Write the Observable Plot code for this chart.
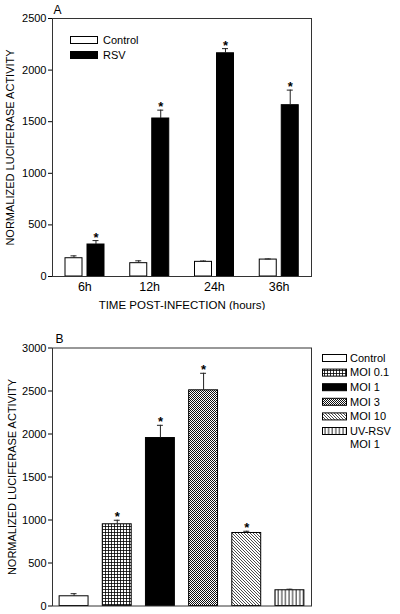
<!DOCTYPE html>
<html><head><meta charset="utf-8">
<script src="https://cdn.jsdelivr.net/npm/d3@7"></script>
<script src="https://cdn.jsdelivr.net/npm/@observablehq/plot@0.6"></script>
<style>
html,body{margin:0;padding:0;background:#fff;}
#chart svg{display:block;}
</style></head><body><div id="chart"></div>
<script>
// ---- Panel A data ----
const timepoints = ["6h", "12h", "24h", "36h"];
const controlA = [177, 129, 142, 164];
const controlErrA = [23, 23, 8, 6];
const rsvA = [310, 1531, 2163, 1660];
const rsvErrA = [38, 81, 45, 146];
const rsvSigA = [true, true, true, true];
const yTicksA = [0, 500, 1000, 1500, 2000, 2500];
const legendLabelsA = ["Control", "RSV"];

// ---- Panel B data ----
const groupsB = ["Control", "MOI 0.1", "MOI 1", "MOI 3", "MOI 10", "UV-RSV MOI 1"];
const valuesB = [113, 950, 1953, 2508, 849, 183];
const errB = [30, 47, 148, 198, 20, 12];
const sigB = [false, true, true, true, true, false];
const yTicksB = [0, 500, 1000, 1500, 2000, 2500, 3000];
const legendLabelsB = ["Control", "MOI 0.1", "MOI 1", "MOI 3", "MOI 10", "UV-RSV\nMOI 1"];
const fillsB = ["white", "url(#pGrid)", "black", "url(#pCheck)", "url(#pDiag)", "url(#pVert)"];

const yLabel = "NORMALIZED LUCIFERASE ACTIVITY";
const xLabelA = "TIME POST-INFECTION (hours)";
const font = "'Liberation Sans', Arial, Helvetica, sans-serif";

const ctrl = timepoints.map((t, i) => ({t, v: controlA[i], e: controlErrA[i]}));
const rsv = timepoints.map((t, i) => ({t, v: rsvA[i], e: rsvErrA[i], sig: rsvSigA[i]}));

const plotA = Plot.plot({
  width: 400, height: 310,
  marginLeft: 52, marginRight: 89, marginTop: 18, marginBottom: 34,
  style: {fontFamily: font, color: "#000", background: "#fff"},
  x: {domain: timepoints, padding: 0, round: false},
  y: {domain: [0, 2500]},
  marks: [
    Plot.barY(ctrl, {x: "t", y: "v", fill: "white", stroke: "black", strokeWidth: 1, insetLeft: 13, insetRight: 34.75}),
    Plot.barY(rsv, {x: "t", y: "v", fill: "black", stroke: "black", strokeWidth: 1, insetLeft: 35, insetRight: 12.75}),
    Plot.ruleX(ctrl, {x: "t", y1: "v", y2: d => d.v + d.e, dx: -10.9, stroke: "#222"}),
    Plot.tickY(ctrl, {x: "t", y: d => d.v + d.e, insetLeft: 18.5, insetRight: 40.25, stroke: "#222"}),
    Plot.ruleX(rsv, {x: "t", y1: "v", y2: d => d.v + d.e, dx: 11.1, stroke: "#222"}),
    Plot.tickY(rsv, {x: "t", y: d => d.v + d.e, insetLeft: 40.5, insetRight: 18.25, stroke: "#222"}),
    Plot.text(rsv.filter(d => d.sig), {x: "t", y: d => d.v + d.e, text: () => "*", dx: 11.1, dy: 1, lineAnchor: "bottom", fontSize: 13, fontWeight: "bold"}),
    Plot.frame({stroke: "#333"}),
    Plot.axisY({ticks: yTicksA, tickFormat: d3.format("d"), tickSize: 4, tickPadding: 2, label: null, fontSize: 11}),
    Plot.axisX({tickSize: 0, tickPadding: 6, label: null, fontSize: 12.5}),
    Plot.text([yLabel], {text: d => d, frameAnchor: "left", textAnchor: "middle", rotate: -90, dx: -42, fontSize: 11}),
    Plot.text([xLabelA], {text: d => d, frameAnchor: "bottom", textAnchor: "middle", dy: 29, lineAnchor: "middle", fontSize: 11.5}),
    Plot.text(["A"], {text: d => d, frameAnchor: "top-left", textAnchor: "start", dx: 1, dy: -8, lineAnchor: "middle", fontSize: 12})
  ]
});

const dataB = groupsB.map((g, i) => ({g, v: valuesB[i], e: errB[i], sig: sigB[i]}));

const plotB = Plot.plot({
  width: 400, height: 304,
  marginLeft: 52, marginRight: 89, marginTop: 37.5, marginBottom: 8.5,
  style: {fontFamily: font, color: "#000", background: "#fff"},
  x: {domain: groupsB, paddingInner: 0.33, paddingOuter: 0.165, round: false, axis: null},
  y: {domain: [0, 3000]},
  color: {type: "ordinal", domain: groupsB, range: fillsB},
  marks: [
    Plot.barY(dataB, {x: "g", y: "v", fill: "g", stroke: "black", strokeWidth: 1}),
    Plot.ruleX(dataB, {x: "g", y1: "v", y2: d => d.v + d.e, stroke: "#222"}),
    Plot.tickY(dataB, {x: "g", y: d => d.v + d.e, insetLeft: 11.5, insetRight: 11.5, stroke: "#222"}),
    Plot.text(dataB.filter(d => d.sig), {x: "g", y: d => d.v + d.e, text: () => "*", dy: 1, lineAnchor: "bottom", fontSize: 13, fontWeight: "bold"}),
    Plot.frame({stroke: "#333"}),
    Plot.axisY({ticks: yTicksB, tickFormat: d3.format("d"), tickSize: 4, tickPadding: 2, label: null, fontSize: 11}),
    Plot.text([yLabel], {text: d => d, frameAnchor: "left", textAnchor: "middle", rotate: -90, dx: -40, fontSize: 11}),
    Plot.text(["B"], {text: d => d, frameAnchor: "top-left", textAnchor: "start", dx: 3, dy: -9, lineAnchor: "middle", fontSize: 12})
  ]
});

// patterns for panel B
const defs = d3.select(plotB).insert("defs", ":first-child");
function pattern(id, w, h, draw) {
  const p = defs.append("pattern").attr("id", id).attr("patternUnits", "userSpaceOnUse").attr("width", w).attr("height", h);
  p.append("rect").attr("width", w).attr("height", h).attr("fill", "white");
  draw(p);
}
pattern("pGrid", 3, 3, p => p.append("path").attr("d", "M0,0.5H3M0.5,0V3").attr("stroke", "black").attr("stroke-width", 0.8));
pattern("pCheck", 2, 2, p => { p.append("rect").attr("width", 1).attr("height", 1).attr("fill", "#111"); p.append("rect").attr("x", 1).attr("y", 1).attr("width", 1).attr("height", 1).attr("fill", "#111"); });
pattern("pDiag", 3, 3, p => p.append("path").attr("d", "M0,0L3,3M-1,2L1,4M2,-1L4,1").attr("stroke", "black").attr("stroke-width", 0.7));
pattern("pVert", 3.6, 4, p => p.append("path").attr("d", "M1,0V4").attr("stroke", "black").attr("stroke-width", 0.9));

// legend A (inside plot area)
const legA = d3.select(plotA).append("g").attr("font-family", font).attr("font-size", 11).attr("text-anchor", "start");
legendLabelsA.forEach((lab, i) => {
  legA.append("rect").attr("x", 70.5).attr("y", 36.5 + i * 15).attr("width", 27).attr("height", 7)
    .attr("fill", i === 0 ? "white" : "black").attr("stroke", "black");
  legA.append("text").attr("x", 103).attr("y", 40 + i * 15).attr("dy", "0.35em").text(lab);
});

// legend B (right margin)
const legB = d3.select(plotB).append("g").attr("font-family", font).attr("font-size", 11).attr("text-anchor", "start");
legendLabelsB.forEach((lab, i) => {
  const cy = 48 + i * 14.6;
  legB.append("rect").attr("x", 322.5).attr("y", cy - 3.5).attr("width", 24).attr("height", 7)
    .attr("fill", fillsB[i]).attr("stroke", "black");
  const t = legB.append("text").attr("x", 350).attr("y", cy);
  lab.split("\n").forEach((line, j) => t.append("tspan").attr("x", 350).attr("dy", j === 0 ? "0.35em" : "1.2em").text(line));
});

document.getElementById("chart").append(plotA, plotB);
</script>
</body></html>
